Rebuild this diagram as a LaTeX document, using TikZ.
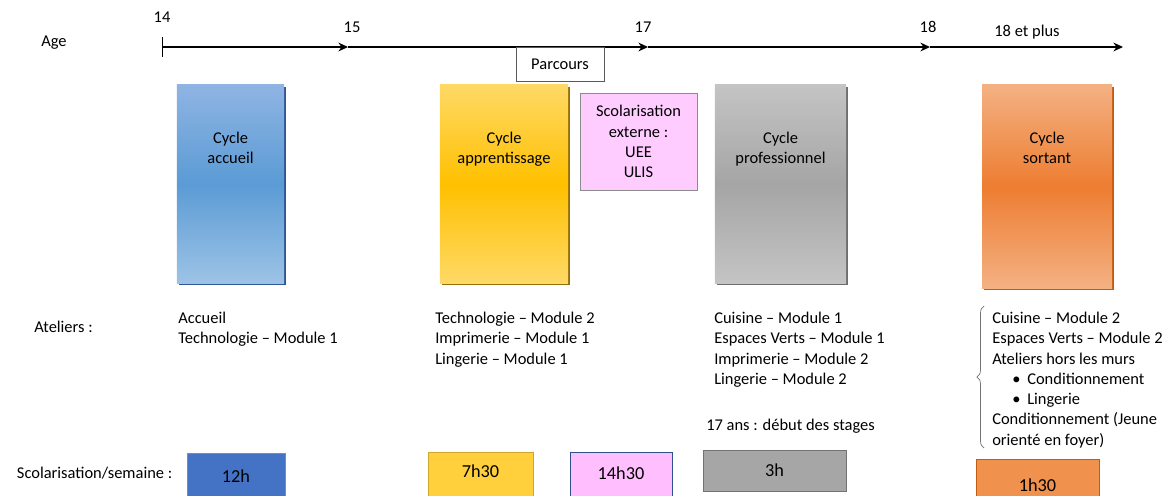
\documentclass[tikz,border=0pt]{standalone}
\usepackage{fontspec}
\setmainfont{Carlito}
\usetikzlibrary{positioning,shadows,arrows.meta,decorations.pathreplacing}
\definecolor{acclight}{RGB}{143,180,227}
\definecolor{accmid}{RGB}{91,155,213}
\definecolor{accbot}{RGB}{157,195,230}
\definecolor{accdark}{RGB}{47,85,151}
\definecolor{applight}{RGB}{255,217,102}
\definecolor{appmid}{RGB}{255,192,0}
\definecolor{appdark}{RGB}{150,110,10}
\definecolor{prolight}{RGB}{196,196,196}
\definecolor{promid}{RGB}{165,165,165}
\definecolor{prodark}{RGB}{110,110,110}
\definecolor{sorlight}{RGB}{244,177,131}
\definecolor{sormid}{RGB}{237,125,49}
\definecolor{sordark}{RGB}{197,90,17}
\definecolor{extpink}{RGB}{255,204,255}
\definecolor{hblue}{RGB}{68,114,196}
\definecolor{hyellow}{RGB}{255,208,60}
\definecolor{hpink}{RGB}{255,191,255}
\definecolor{hgray}{RGB}{166,166,166}
\definecolor{horange}{RGB}{240,145,77}

\begin{document}
\begin{tikzpicture}[x=0.025cm, y=-0.025cm,
  font=\fontsize{11.7}{14.4}\selectfont,
  axis/.style={line width=0.9pt, -{Stealth[length=2.4mm, width=2.2mm]}},
  cycbox/.style={minimum height=4.95cm, inner sep=0pt},
  cyclab/.style={anchor=north, yshift=-1.175cm, align=center, inner sep=0pt},
  listtxt/.style={anchor=north west, align=left, inner sep=0pt},
  hbox/.style={minimum height=1.175cm, inner sep=0pt, line width=0.6pt},
  hlab/.style={anchor=center, font=\fontsize{13}{15}\selectfont},
  brace/.style={decorate, decoration={brace, amplitude=5pt}, draw=black!55, line width=0.5pt},
]
\useasboundingbox (0,0) rectangle (1168,495);

\coordinate (t14) at (162,47);
\coordinate (t15) at (348,47);
\coordinate (t17) at (648,47);
\coordinate (t18) at (930,47);
\coordinate (tend) at (1123,47);
\draw[axis, {Bar[width=5mm]}-{Stealth[length=2.4mm, width=2.2mm]}] (t14) -- (t15);
\draw[axis] (t15) -- (t17);
\draw[axis] (t17) -- (t18);
\draw[axis] (t18) -- (tend);
\node (age) at (54,43) {Age};
\node (n14) at (162,17) {14};
\node (n15) at (352,27) {15};
\node (n17) at (643,27) {17};
\node (n18) at (928,27) {18};
\node (n18p) at (1027,32) {18 et plus};
\node[draw=black!65, fill=white, minimum width=2.2cm, minimum height=0.85cm] (parcours) at (560,64) {Parcours};

\node[cycbox, minimum width=2.675cm, top color=acclight, bottom color=accbot, middle color=accmid,
  drop shadow={shadow xshift=1.2pt, shadow yshift=-1.4pt, fill=accdark, opacity=1},
  label={[cyclab]north:Cycle\\accueil}] (accueil) at (230.5,184) {};
\node[cycbox, minimum width=3.2cm, top color=applight, bottom color=applight, middle color=appmid,
  drop shadow={shadow xshift=1.2pt, shadow yshift=-1.4pt, fill=appdark, opacity=1},
  label={[cyclab]north:Cycle\\apprentissage}] (apprent) at (504,184) {};
\node[draw=black!45, fill=extpink, minimum width=2.925cm, minimum height=2.425cm, align=center] (externe) at (638.5,141.5) {Scolarisation\\externe :\\UEE\\ULIS};
\node[cycbox, minimum width=3.275cm, top color=prolight, bottom color=prolight, middle color=promid,
  drop shadow={shadow xshift=1.2pt, shadow yshift=-1.4pt, fill=prodark, opacity=1},
  label={[cyclab]north:Cycle\\professionnel}] (pro) at (780.5,184) {};
\node[cycbox, minimum width=3.25cm, minimum height=5.075cm, top color=sorlight, bottom color=sorlight, middle color=sormid,
  drop shadow={shadow xshift=1.2pt, shadow yshift=-1.4pt, fill=sordark, opacity=1},
  label={[cyclab]north:Cycle\\sortant}] (sortant) at (1047,186.5) {};

\node (ateliers) at (63.5,327) {Ateliers :};
\node[listtxt] (at1) at (178,312) {Accueil\\Technologie – Module 1};
\node[listtxt] (at2) at (435,312) {Technologie – Module 2\\Imprimerie – Module 1\\Lingerie – Module 1};
\node[listtxt] (at3) at (714,312) {Cuisine – Module 1\\Espaces Verts – Module 1\\Imprimerie – Module 2\\Lingerie – Module 2};
\node[listtxt] (stages) at (706,419) {17 ans : début des stages};
\node[listtxt] (at4) at (992,312) {Cuisine – Module 2\\Espaces Verts – Module 2\\Ateliers hors les murs\\
  \hspace*{0.5cm}\textbullet\hspace{0.17cm}Conditionnement\\\hspace*{0.5cm}\textbullet\hspace{0.17cm}Lingerie\\
  Conditionnement (Jeune\\orienté en foyer)};
\coordinate (brtop) at (984,306);
\coordinate (brbot) at (984,448);
\draw[brace] (brbot) -- (brtop);

\node[anchor=west] (semaine) at (12,473) {Scolarisation/semaine :};
\node[hbox, fill=hblue, draw=hblue!80!white, minimum width=2.45cm,
  label={[hlab]center:12h}] (h12) at (236,476.5) {};
\node[hbox, fill=hyellow, draw=hyellow!80!black, minimum width=2.625cm,
  label={[hlab, yshift=0.125cm]center:7h30}] (h7) at (480.5,476) {};
\node[hbox, fill=hpink, draw=hblue!70!black, minimum width=2.55cm,
  label={[hlab, yshift=0.075cm]center:14h30}] (h14) at (621,476) {};
\node[hbox, fill=hgray, draw=black!55, minimum width=3.575cm, minimum height=1.025cm,
  label={[hlab]center:3h}] (h3) at (774.5,470.5) {};
\node[hbox, fill=horange, draw=sordark, minimum width=3.075cm, minimum height=1.15cm,
  label={[hlab, yshift=-0.075cm]center:1h30}] (h1) at (1037.5,482) {};
\end{tikzpicture}
\end{document}
